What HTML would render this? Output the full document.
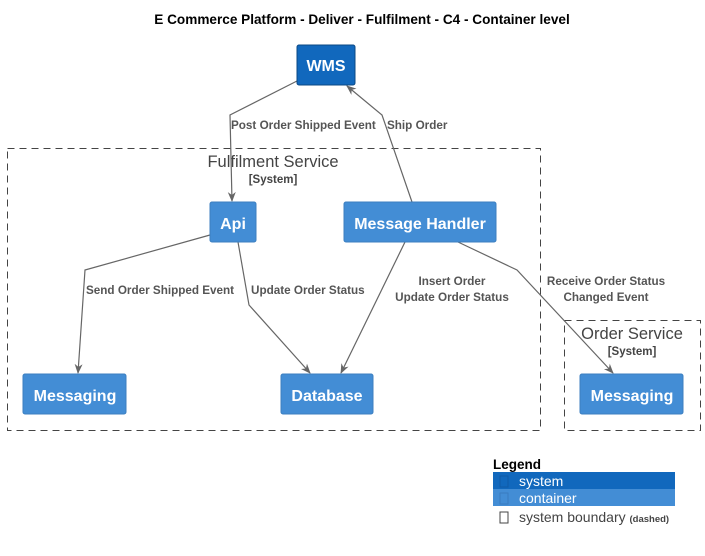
<!DOCTYPE html>
<html><head><meta charset="utf-8"><style>
body{margin:0;background:#fff;width:705px;height:551px;overflow:hidden}
svg text{font-family:"Liberation Sans","DejaVu Sans",sans-serif}
</style></head><body>
<svg width="705" height="551" viewBox="0 0 705 551" xmlns="http://www.w3.org/2000/svg">
<defs><marker id="a" markerWidth="10" markerHeight="10" refX="9" refY="5" orient="auto" markerUnits="userSpaceOnUse"><path d="M0,1 L10,5 L0,9 L3,5 Z" fill="#666"/></marker></defs>
<text x="362" y="24" text-anchor="middle" font-size="13.6" font-weight="bold" fill="#000">E Commerce Platform - Deliver - Fulfilment - C4 - Container level</text>
<rect x="7.5" y="148.5" width="533" height="282" fill="none" stroke="#444" stroke-dasharray="7,5"/>
<text x="273" y="167" text-anchor="middle" font-size="16.5" fill="#444">Fulfilment Service</text>
<text x="273" y="183" text-anchor="middle" font-size="11.5" font-weight="bold" fill="#444">[System]</text>
<rect x="564.5" y="320.5" width="136" height="110" fill="none" stroke="#444" stroke-dasharray="7,5"/>
<text x="632" y="339" text-anchor="middle" font-size="16.5" fill="#444">Order Service</text>
<text x="632" y="355" text-anchor="middle" font-size="11.5" font-weight="bold" fill="#444">[System]</text>
<g fill="none" stroke="#666" stroke-width="1.2">
<polyline points="297,81 230,115 232,201" marker-end="url(#a)"/>
<polyline points="412,202 382,115 347,86" marker-end="url(#a)"/>
<polyline points="210,235 85,270 78,373" marker-end="url(#a)"/>
<polyline points="238,242 249,305 310,373" marker-end="url(#a)"/>
<polyline points="405,242 341,373" marker-end="url(#a)"/>
<polyline points="458,242 517,270 613,373" marker-end="url(#a)"/>
</g>
<g font-size="11.7" font-weight="bold" fill="#555">
<text x="231" y="129">Post Order Shipped Event</text>
<text x="387" y="129">Ship Order</text>
<text x="86" y="294">Send Order Shipped Event</text>
<text x="251" y="294">Update Order Status</text>
<text x="452" y="285" text-anchor="middle">Insert Order</text>
<text x="452" y="301" text-anchor="middle">Update Order Status</text>
<text x="606" y="285" text-anchor="middle">Receive Order Status</text>
<text x="606" y="301" text-anchor="middle">Changed Event</text>
</g>
<g stroke="#3c7fc0" stroke-width="1">
<rect x="297" y="45" width="58" height="40" rx="2" fill="#1168bd" stroke="#0b4884"/>
<rect x="210" y="202" width="46" height="40" rx="2" fill="#438dd5"/>
<rect x="344" y="202" width="152" height="40" rx="2" fill="#438dd5"/>
<rect x="23" y="374" width="103" height="40" rx="2" fill="#438dd5"/>
<rect x="281" y="374" width="92" height="40" rx="2" fill="#438dd5"/>
<rect x="580" y="374" width="103" height="40" rx="2" fill="#438dd5"/>
</g>
<g font-size="16" font-weight="bold" fill="#fff" text-anchor="middle">
<text x="326" y="71">WMS</text>
<text x="233" y="229">Api</text>
<text x="420" y="229">Message Handler</text>
<text x="75" y="401">Messaging</text>
<text x="327" y="401">Database</text>
<text x="632" y="401">Messaging</text>
</g>
<text x="493" y="469" font-size="13.5" font-weight="bold" fill="#000">Legend</text>
<rect x="493" y="472" width="182" height="17" fill="#1168bd"/>
<rect x="493" y="489" width="182" height="17" fill="#438dd5"/>
<rect x="500" y="476" width="8" height="11" fill="none" stroke="#0e5aa7"/>
<rect x="500" y="493" width="8" height="11" fill="none" stroke="#3a7cc0"/>
<rect x="500" y="512" width="8" height="11" fill="none" stroke="#444"/>
<text x="519" y="486" font-size="14" fill="#fff">system</text>
<text x="519" y="503" font-size="14" fill="#fff">container</text>
<text x="519" y="522" font-size="14" fill="#444">system boundary <tspan font-size="9.5" font-weight="bold">(dashed)</tspan></text>
</svg>
</body></html>
